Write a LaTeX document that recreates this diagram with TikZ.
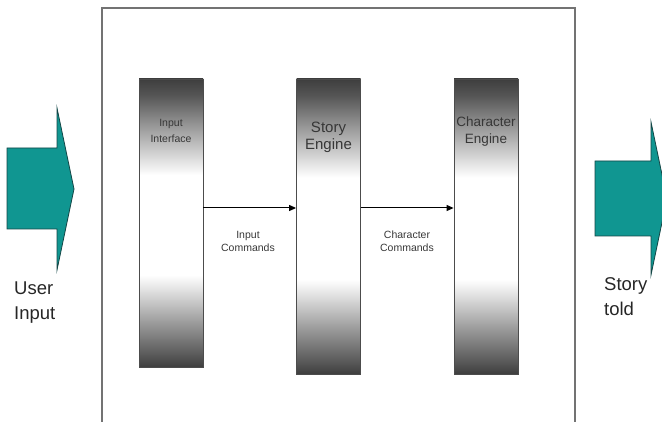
\documentclass[tikz,border=0pt]{standalone}
\usepackage{fontspec}
\setmainfont{Liberation Sans}
\usetikzlibrary{arrows.meta}
\definecolor{teal1}{RGB}{16,150,145}
\definecolor{tealedge}{RGB}{20,70,70}
\definecolor{framegray}{RGB}{115,115,115}
\definecolor{bd}{RGB}{62,62,62}
\definecolor{bg0}{RGB}{85,85,85}
\definecolor{bg1}{RGB}{95,95,95}
\definecolor{bg2}{RGB}{150,150,150}
\definecolor{bg3}{RGB}{150,150,150}
\definecolor{bg4}{RGB}{235,235,235}
\definecolor{txtgray}{RGB}{55,55,55}
\pgfdeclareverticalshading{barshade}{100bp}{color(0bp)=(bd); color(25bp)=(bd); color(27.6bp)=(bg1); color(32.3bp)=(bg2); color(39.2bp)=(bg4); color(41bp)=(white); color(58.3bp)=(white); color(60bp)=(bg4); color(67bp)=(bg3); color(72.2bp)=(bg0); color(75bp)=(bd); color(100bp)=(bd)}
\tikzset{
  bar/.style={draw=black!70, line width=0.8pt, shading=barshade, inner sep=0pt, minimum width=64pt},
  bigarrow/.style={fill=teal1, draw=tealedge, line width=0.8pt, line join=miter},
  conn/.style={draw=black, line width=1pt, -{Triangle[length=7pt,width=6pt]}},
  barlabel/.style={text=txtgray, align=center, inner sep=0pt},
  cmdlabel/.style={text=txtgray, align=center, inner sep=0pt, font=\fontsize{10.5}{13}\selectfont},
  sidelabel/.style={text=black!85, align=left, inner sep=0pt, anchor=west, font=\fontsize{18.5}{25}\selectfont}
}
\begin{document}
\begin{tikzpicture}[x=1pt, y=-1pt]
\useasboundingbox (0,0) rectangle (662,422);
\clip (0,0) rectangle (662,422);
% frame
\draw[framegray, line width=1.5pt] (102,430) -- (102,8) -- (575,8) -- (575,430);
% big arrows
\draw[bigarrow] (7,148) -- (57,148) -- (57,108) -- (74,189) -- (57,270) -- (57,229) -- (7,229) -- cycle;
\draw[bigarrow] (595,161) -- (651,161) -- (651,122) -- (667,198.5) -- (651,275) -- (651,236) -- (595,236) -- cycle;
\node[sidelabel] (uin) at (14,302.5) {User\\Input};
\node[sidelabel] (stold) at (604,296.5) {Story\\told};
% bars
\node[bar, minimum height=288pt] (b1) at (171,223) {};
\node[bar, minimum height=295pt] (b2) at (328.5,226.5) {};
\node[bar, minimum height=295pt] (b3) at (486,226.5) {};
\node[barlabel, font=\fontsize{10.5}{16}\selectfont] (l1) at (171,131) {Input\\Interface};
\node[barlabel, font=\fontsize{15}{17}\selectfont] (l2) at (328.5,137) {Story\\Engine};
\node[barlabel, font=\fontsize{13.5}{17}\selectfont] (l3) at (486,131.5) {Character\\Engine};
% connectors
\draw[conn] ([yshift=15pt]b1.east) -- ([yshift=15pt]b1.east -| b2.west) coordinate[midway] (m1);
\draw[conn] ([yshift=18.5pt]b2.east) -- ([yshift=18.5pt]b2.east -| b3.west) coordinate[midway] (m2);
\node[cmdlabel] (c1) at (248,241.5) {Input\\Commands};
\node[cmdlabel] (c2) at (407,241.5) {Character\\Commands};
\end{tikzpicture}
\end{document}
